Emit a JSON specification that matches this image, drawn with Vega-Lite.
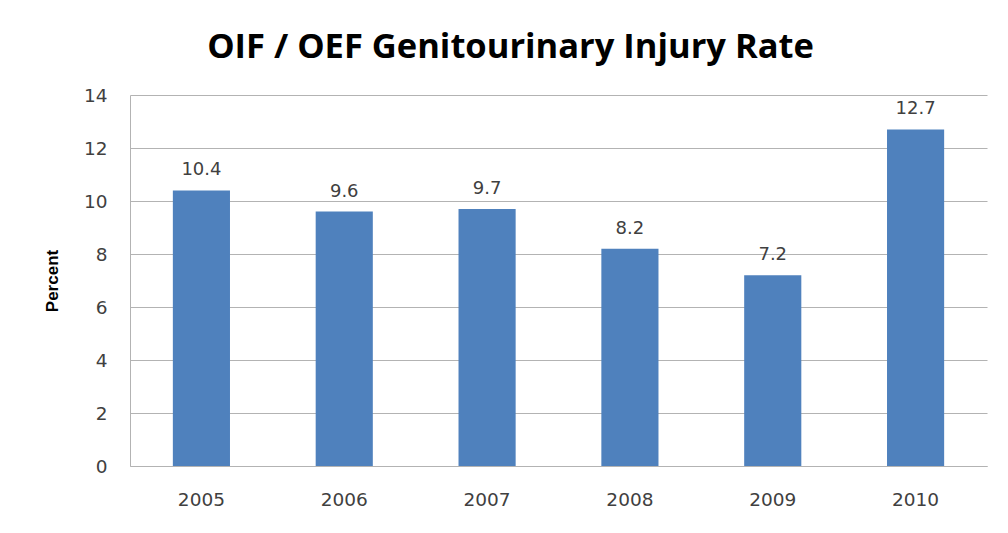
{
  "$schema": "https://vega.github.io/schema/vega-lite/v6.json",
  "autosize": {"type": "none"},
  "width": 857,
  "height": 371,
  "padding": {"left": 130, "top": 95, "right": 21, "bottom": 67},
  "background": "white",
  "title": {
    "text": "OIF / OEF Genitourinary Injury Rate",
    "font": "Open Sans",
    "fontSize": 34.5,
    "fontWeight": "bold",
    "color": "#000000",
    "anchor": "middle",
    "dx": -48,
    "offset": 21
  },
  "data": {
    "values": [
      {"year": "2005", "rate": 10.4},
      {"year": "2006", "rate": 9.6},
      {"year": "2007", "rate": 9.7},
      {"year": "2008", "rate": 8.2},
      {"year": "2009", "rate": 7.2},
      {"year": "2010", "rate": 12.7}
    ]
  },
  "encoding": {
    "x": {
      "field": "year",
      "type": "ordinal",
      "title": null,
      "scale": {"paddingInner": 0.6, "paddingOuter": 0.3},
      "axis": {
        "labelAngle": 0,
        "labelFont": "DejaVu Sans",
        "labelFontSize": 18.5,
        "labelColor": "#404040",
        "labelPadding": 24,
        "ticks": false,
        "domainColor": "#b3b3b3",
        "grid": false
      }
    },
    "y": {
      "field": "rate",
      "type": "quantitative",
      "title": "Percent",
      "scale": {"domain": [0, 14]},
      "axis": {
        "values": [0, 2, 4, 6, 8, 10, 12, 14],
        "labelFont": "DejaVu Sans",
        "labelFontSize": 18.5,
        "labelColor": "#404040",
        "labelPadding": 23,
        "ticks": false,
        "domainColor": "#b3b3b3",
        "gridColor": "#b3b3b3",
        "titleFont": "Liberation Sans",
        "titleFontSize": 17,
        "titleFontWeight": "bold",
        "titleColor": "#000000",
        "titlePadding": 22
      }
    }
  },
  "layer": [
    {"mark": {"type": "bar", "color": "#4F81BD"}},
    {
      "mark": {
        "type": "text",
        "baseline": "alphabetic",
        "dy": -15,
        "font": "DejaVu Sans",
        "fontSize": 18,
        "color": "#404040"
      },
      "encoding": {"text": {"field": "rate", "type": "quantitative", "format": ".1f"}}
    }
  ],
  "config": {"view": {"stroke": null}}
}
